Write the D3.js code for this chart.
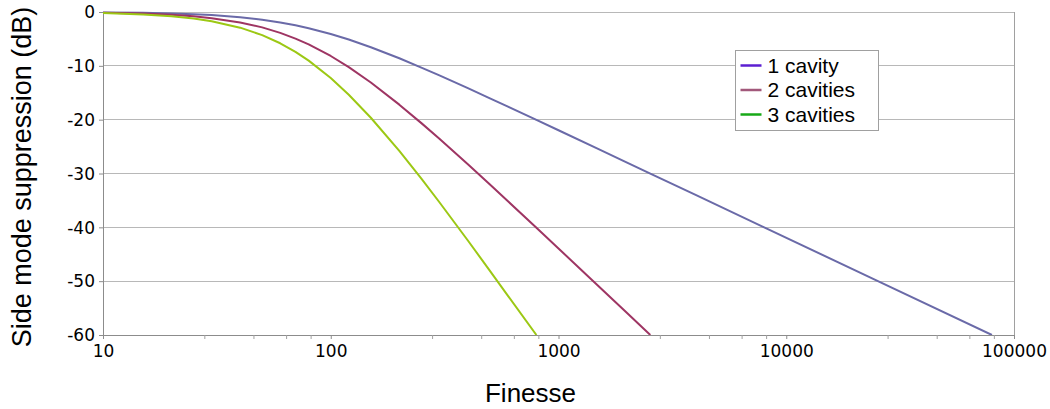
<!DOCTYPE html>
<html>
<head>
<meta charset="utf-8">
<script src="https://cdn.jsdelivr.net/npm/d3@7/dist/d3.min.js"></script>
<style>
  html, body { margin: 0; padding: 0; background: #fff; }
  svg { display: block; }
</style>
</head>
<body>
<svg id="chart" width="1050" height="409"></svg>
<script>
// Finesse sample points and side-mode suppression (dB) per cavity count
const finesse = [10, 15, 20, 25, 30, 40, 50, 60, 70, 80, 100, 120, 150, 200, 250, 300, 400, 500, 600, 800, 1000, 1500, 2000, 2530, 4000, 8000, 25000, 80000];
const oneCavity = [-0.07, -0.15, -0.26, -0.41, -0.57, -0.97, -1.43, -1.94, -2.47, -3.01, -4.09, -5.12, -6.55, -8.60, -10.32, -11.78, -14.15, -16.03, -17.58, -20.04, -21.97, -25.47, -27.97, -30.01, -33.98, -40.00, -49.90, -60.00];
const twoCavities = [-0.13, -0.30, -0.53, -0.81, -1.14, -1.94, -2.86, -3.88, -4.94, -6.02, -8.17, -10.24, -13.09, -17.21, -20.64, -23.56, -28.30, -32.05, -35.16, -40.09, -43.93, -50.94, -55.93, -60.00, null, null, null, null];
const threeCavities = [-0.20, -0.45, -0.79, -1.21, -1.71, -2.91, -4.30, -5.81, -7.41, -9.03, -12.26, -15.36, -19.64, -25.81, -30.96, -35.34, -42.45, -48.08, -52.73, -60.00, null, null, null, null, null, null, null, null];

const seriesNames = ["1 cavity", "2 cavities", "3 cavities"];
const lineColors = ["#6a6aa8", "#9e3563", "#9cc814"];
const legendColors = ["#5c1fd2", "#a2587b", "#17a917"];

const xTicks = [10, 100, 1000, 10000, 100000];
const yTicks = [0, -10, -20, -30, -40, -50, -60];

const margin = { left: 103, top: 12, right: 36, bottom: 74 };
const W = 1050, H = 409;
const pw = W - margin.left - margin.right;
const ph = H - margin.top - margin.bottom;

const svg = d3.select("#chart");
const g = svg.append("g").attr("transform", `translate(${margin.left},${margin.top})`);

const x = d3.scaleLog().domain([10, 100000]).range([0, pw]);
const y = d3.scaleLinear().domain([-60, 0]).range([ph, 0]);

// horizontal gridlines
g.append("g")
  .selectAll("line")
  .data(yTicks)
  .join("line")
  .attr("x1", 0).attr("x2", pw)
  .attr("y1", d => y(d)).attr("y2", d => y(d))
  .attr("stroke", "#b8b8b8").attr("stroke-width", 1)
  .attr("shape-rendering", "crispEdges");

// right frame line
g.append("line")
  .attr("x1", pw).attr("x2", pw).attr("y1", 0).attr("y2", ph)
  .attr("stroke", "#a0a0a0").attr("shape-rendering", "crispEdges");

// minor x ticks: five linear steps inside each decade
const minorTicks = [];
for (let k = 1; k <= 4; k++) {
  const base = Math.pow(10, k);
  [2.8, 4.6, 6.4, 8.2].forEach(m => minorTicks.push(base * m));
}

const fontTick = "'DejaVu Sans', sans-serif";
const fontTitle = "'Liberation Sans', Arial, sans-serif";
const plainNumber = d => String(d);

// x axis
const xAxis = g.append("g").attr("transform", `translate(0,${ph})`)
  .call(d3.axisBottom(x).tickValues(xTicks).tickFormat(plainNumber).tickSizeOuter(0).tickSizeInner(4).tickPadding(6));
xAxis.append("g").selectAll("line")
  .data(minorTicks)
  .join("line")
  .attr("x1", d => x(d)).attr("x2", d => x(d))
  .attr("y1", 0).attr("y2", 4)
  .attr("stroke", "#a0a0a0");

// y axis
const yAxis = g.append("g")
  .call(d3.axisLeft(y).tickValues(yTicks).tickFormat(plainNumber).tickSizeOuter(0).tickSizeInner(4).tickPadding(4));

[xAxis, yAxis].forEach(ax => {
  ax.select(".domain").attr("stroke", "#8c8c8c").attr("shape-rendering", "crispEdges");
  ax.selectAll(".tick line").attr("stroke", "#8c8c8c");
  ax.selectAll(".tick text")
    .attr("fill", "#000")
    .style("font-family", fontTick)
    .style("font-size", "17px");
});
xAxis.selectAll(".tick text").attr("dy", "0.71em");
yAxis.selectAll(".tick text").attr("dy", "0.34em");

// data lines
g.append("clipPath").attr("id", "plotClip")
  .append("rect").attr("x", 0).attr("y", -2).attr("width", pw).attr("height", ph + 2);

const seriesData = [oneCavity, twoCavities, threeCavities];
const line = d3.line()
  .defined(d => d[1] !== null)
  .x(d => x(d[0]))
  .y(d => y(d[1]));

g.append("g").attr("clip-path", "url(#plotClip)")
  .selectAll("path")
  .data(seriesData.map(vals => finesse.map((f, i) => [f, vals[i]])))
  .join("path")
  .attr("d", line)
  .attr("fill", "none")
  .attr("stroke", (d, i) => lineColors[i])
  .attr("stroke-width", 2)
  .attr("stroke-linejoin", "round");

// legend
const legend = svg.append("g").attr("transform", "translate(735.5,50.5)");
legend.append("rect")
  .attr("width", 143).attr("height", 80)
  .attr("fill", "#fff").attr("stroke", "#a0a0a0");
seriesNames.forEach((name, i) => {
  const cy = 15 + i * 24.5;
  legend.append("line")
    .attr("x1", 5).attr("x2", 26).attr("y1", cy).attr("y2", cy)
    .attr("stroke", legendColors[i]).attr("stroke-width", 2.5);
  legend.append("text")
    .attr("x", 32).attr("y", cy).attr("dy", "0.35em")
    .style("font-family", fontTitle).style("font-size", "21px")
    .attr("fill", "#000")
    .text(name);
});

// axis titles
svg.append("text")
  .attr("x", margin.left + pw / 2 - 28).attr("y", 402)
  .attr("text-anchor", "middle")
  .style("font-family", fontTitle).style("font-size", "26px")
  .text("Finesse");

svg.append("text")
  .attr("transform", `translate(31,${177}) rotate(-90)`)
  .attr("text-anchor", "middle")
  .style("font-family", fontTitle).style("font-size", "27px")
  .text("Side mode suppression (dB)");
</script>
</body>
</html>
